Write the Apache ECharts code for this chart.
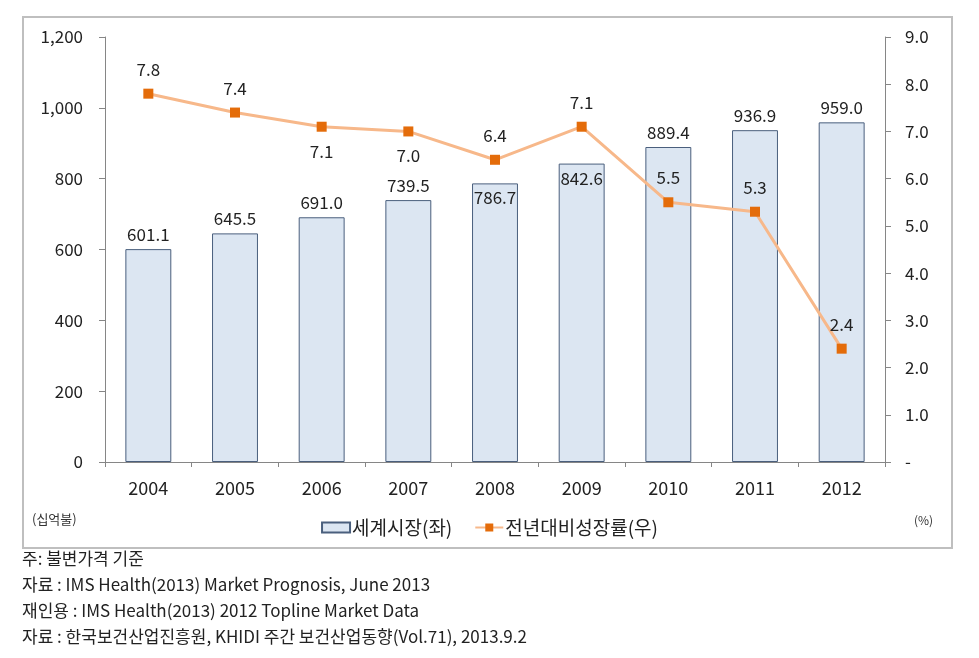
<!DOCTYPE html>
<html><head><meta charset="utf-8">
<script src="https://cdn.jsdelivr.net/npm/echarts@6/dist/echarts.min.js"></script>
<style>html,body{margin:0;padding:0;background:#fff}#c{width:979px;height:658px}</style>
</head><body><div id="c"></div>
<script>
const years = ['2004','2005','2006','2007','2008','2009','2010','2011','2012'];
const market = [601.1, 645.5, 691.0, 739.5, 786.7, 842.6, 889.4, 936.9, 959.0];
const growth = [7.8, 7.4, 7.1, 7.0, 6.4, 7.1, 5.5, 5.3, 2.4];
const marketLabelPos = ['top','top','top','top','insideTop','insideTop','top','top','top'];
const growthLabelPos = ['top','top','bottom','bottom','top','top','top','top','top'];
const notes = [
  '주: 불변가격 기준',
  '자료 : IMS Health(2013) Market Prognosis, June 2013',
  '재인용 : IMS Health(2013) 2012 Topline Market Data',
  '자료 : 한국보건산업진흥원, KHIDI 주간 보건산업동향(Vol.71), 2013.9.2'
];

const FONT = '"Noto Sans CJK KR", "Open Sans", sans-serif';
const NARROW = '"Liberation Sans Narrow", "Noto Sans CJK KR", sans-serif';
const chart = echarts.init(document.getElementById('c'));
const axisCol = '#868686';
chart.setOption({
  animation: false,
  textStyle: {fontFamily: FONT},
  grid: {left: 105, right: 94, top: 37, bottom: 196, containLabel: false},
  xAxis: {
    type: 'category', data: years,
    axisLine: {lineStyle: {color: axisCol}},
    axisTick: {show: true, alignWithLabel: false, length: 5, lineStyle: {color: axisCol}},
    axisLabel: {color: '#222', fontSize: 18, margin: 17, fontFamily: FONT}
  },
  yAxis: [{
    type: 'value', min: 0, max: 1200, interval: 200,
    axisLine: {show: true, lineStyle: {color: axisCol}},
    axisTick: {show: true, length: 6, lineStyle: {color: axisCol}},
    splitLine: {show: false},
    axisLabel: {color: '#222', fontSize: 17, margin: 22,
      formatter: v => v.toLocaleString('en-US')}
  }, {
    type: 'value', min: 0, max: 9, interval: 1,
    axisLine: {show: true, lineStyle: {color: axisCol}},
    axisTick: {show: true, length: 6, lineStyle: {color: axisCol}},
    splitLine: {show: false},
    axisLabel: {color: '#222', fontSize: 17, margin: 20,
      formatter: v => v === 0 ? '-' : v.toFixed(1)}
  }],
  legend: {
    bottom: 116, left: 'center', itemGap: 22, itemWidth: 28, itemHeight: 10,
    textStyle: {fontSize: 19, color: '#222', fontFamily: FONT, padding: [0,0,0,-3]},
    data: [
      {name: '세계시장(좌)', icon: 'rect'},
      {name: '전년대비성장률(우)'}
    ]
  },
  series: [{
    name: '세계시장(좌)', type: 'bar', yAxisIndex: 0, barWidth: '53%',
    data: market.map((v, i) => ({value: v, label: {position: marketLabelPos[i]}})),
    itemStyle: {color: '#DCE6F2', borderColor: '#4A5F7D', borderWidth: 1},
    label: {show: true, color: '#222', fontSize: 17, distance: 6,
      formatter: p => p.value.toFixed(1)}
  }, {
    name: '전년대비성장률(우)', type: 'line', yAxisIndex: 1,
    data: growth.map((v, i) => ({value: v, label: {position: growthLabelPos[i]}})),
    lineStyle: {color: '#F7B88A', width: 3},
    itemStyle: {color: '#E46C0A'},
    symbol: 'rect', symbolSize: 10,
    label: {show: true, color: '#222', fontSize: 17, distance: 11,
      formatter: p => p.value.toFixed(1)}
  }],
  graphic: [
    {type: 'rect', shape: {x: 23, y: 17, width: 929, height: 531},
     style: {fill: 'none', stroke: '#BFBFBF', lineWidth: 2}, silent: true},
    {type: 'text', left: 32, top: 513, style: {text: '(십억불)', fill: '#333', font: '13px ' + FONT}},
    {type: 'text', left: 914, top: 514, style: {text: '(%)', fill: '#333', font: '12px ' + FONT}},
    ...notes.map((t, i) => ({type: 'text', left: 22, top: 550 + i * 26,
      style: {text: t, fill: '#222', font: '17px ' + NARROW}}))
  ]
});
</script></body></html>
